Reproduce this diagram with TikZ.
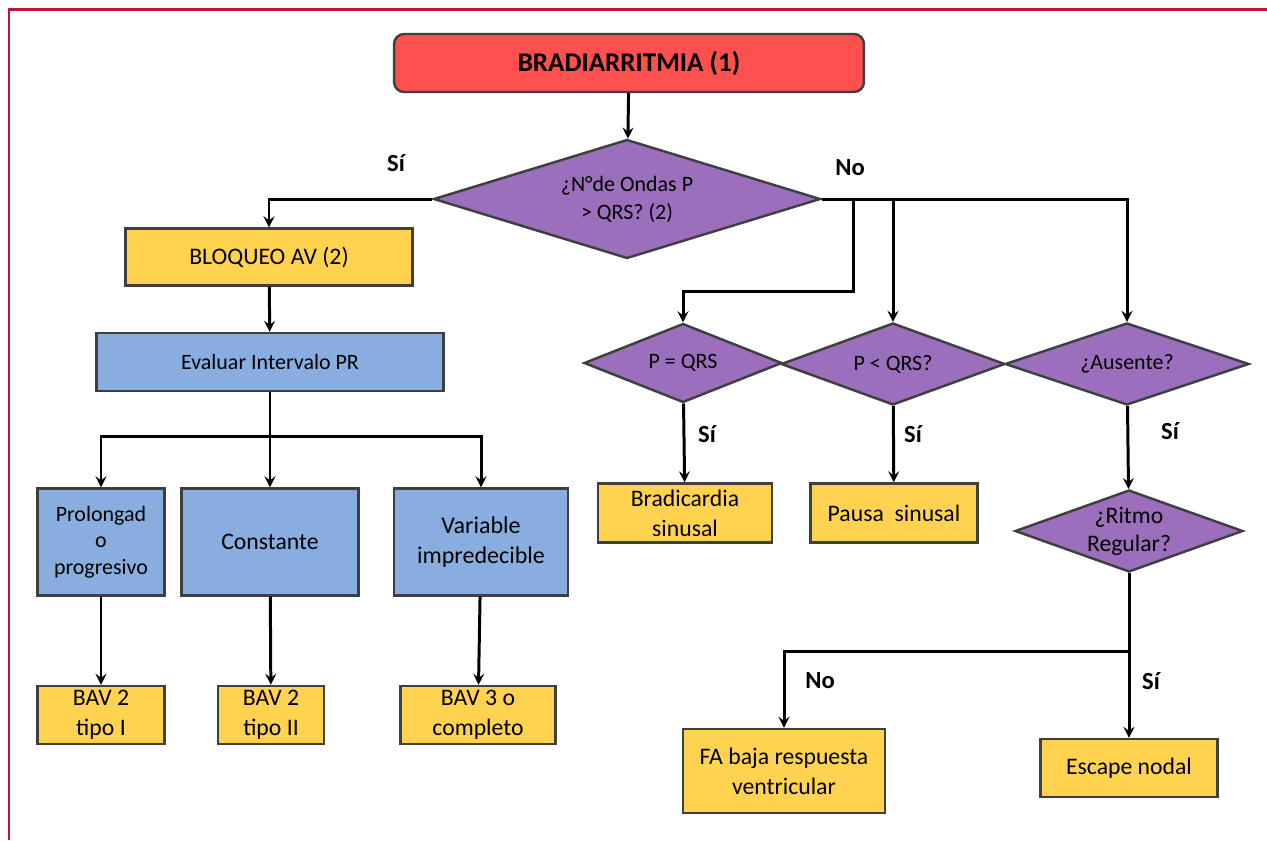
\documentclass[tikz,border=0pt]{standalone}
\usepackage{fontspec}
\setmainfont{Carlito}
\usetikzlibrary{arrows}
\usetikzlibrary{shapes}

\definecolor{frameRed}{HTML}{C8103E}
\definecolor{titleRed}{HTML}{FF5050}
\definecolor{decisionPurple}{HTML}{9B6FBC}
\definecolor{resultYellow}{HTML}{FFD34F}
\definecolor{processBlue}{HTML}{88AEE0}
\definecolor{borderGray}{HTML}{3F3F3F}

\begin{document}
\begin{tikzpicture}[x = 0.02cm, y = -0.02cm]
	\tikzstyle{BoxStyle} = [draw = borderGray, line width = 1.4pt, inner sep = 2pt, align = center, text = black]
	\tikzstyle{titleStyle} = [BoxStyle, rounded corners = 0.2cm, fill = titleRed, font = \fontsize{15.4}{18}\selectfont\bfseries]
	\tikzstyle{decisionStyle} = [BoxStyle, shape = diamond, inner sep = 0pt, aspect = 2.8, fill = decisionPurple, font = \fontsize{12.5}{16}\selectfont]
	\tikzstyle{resultStyle} = [BoxStyle, shape = rectangle, fill = resultYellow, font = \fontsize{13.5}{17}\selectfont]
	\tikzstyle{processStyle} = [BoxStyle, shape = rectangle, fill = processBlue, font = \fontsize{12.5}{15}\selectfont]
	\tikzstyle{labelStyle} = [font = \fontsize{14}{17}\selectfont\bfseries]
	\tikzstyle{EdgeStyle} = [draw = black, line width = 1.7pt, -stealth]
	\useasboundingbox (0,0) rectangle (1267,840);
	\draw[frameRed, line width = 1.6pt] (9,840) -- (9,9.5) -- (1267,9.5);
	\node[titleStyle, minimum width = 9.4cm, minimum height = 1.16cm] (brad) at (629,63) {BRADIARRITMIA (1)};
	\node[decisionStyle, aspect = 3.25, minimum width = 7.74cm, minimum height = 2.38cm] (ondas) at (627,199) {¿N°de Ondas P\\> QRS? (2)};
	\node[resultStyle, minimum width = 5.74cm, minimum height = 1.14cm] (bloq) at (269,257) {BLOQUEO AV (2)};
	\node[processStyle, minimum width = 6.94cm, minimum height = 1.16cm] (eval) at (270,362) {Evaluar Intervalo PR};
	\node[processStyle, minimum width = 2.54cm, minimum height = 2.14cm] (prol) at (101,542) {Prolongad\\o\\progresivo};
	\node[processStyle, minimum width = 3.54cm, minimum height = 2.14cm, font = \fontsize{13.5}{16}\selectfont] (const) at (270,542) {Constante};
	\node[processStyle, minimum width = 3.48cm, minimum height = 2.14cm, font = \fontsize{13.7}{17}\selectfont] (var) at (481,542) {Variable\\impredecible};
	\node[resultStyle, minimum width = 2.54cm, minimum height = 1.16cm] (bavI) at (101,715) {BAV 2\\tipo I};
	\node[resultStyle, minimum width = 2.12cm, minimum height = 1.16cm] (bavII) at (271,715) {BAV 2\\tipo II};
	\node[resultStyle, minimum width = 3.1cm, minimum height = 1.16cm] (bavIII) at (478,715) {BAV 3 o\\completo};
	\node[decisionStyle, minimum width = 3.96cm, minimum height = 1.58cm] (pIgual) at (683,363) {P = QRS};
	\node[decisionStyle, minimum width = 4.48cm, minimum height = 1.64cm] (pMenor) at (893,364) {P < QRS?};
	\node[decisionStyle, minimum width = 4.88cm, minimum height = 1.64cm] (aus) at (1127,364) {¿Ausente?};
	\node[resultStyle, minimum width = 3.48cm, minimum height = 1.18cm] (bradSin) at (685,513) {Bradicardia\\sinusal};
	\node[resultStyle, minimum width = 3.34cm, minimum height = 1.18cm] (pausa) at (894,513) {Pausa~~sinusal};
	\node[decisionStyle, aspect = 2.75, inner sep = -3pt, minimum width = 4.56cm, minimum height = 1.64cm, font = \fontsize{13.5}{16}\selectfont] (ritmo) at (1129,531) {¿Ritmo\\Regular?};
	\node[resultStyle, minimum width = 4.04cm, minimum height = 1.68cm] (fa) at (784,771) {FA baja respuesta\\ventricular};
	\node[resultStyle, minimum width = 3.54cm, minimum height = 1.16cm] (esc) at (1129,768) {Escape nodal};
	\node[labelStyle] (siOndas) at (396,163) {Sí};
	\node[labelStyle] (noOndas) at (850,168) {No};
	\node[labelStyle] (siIgual) at (707,434) {Sí};
	\node[labelStyle] (siMenor) at (913,434) {Sí};
	\node[labelStyle] (siAus) at (1170,431) {Sí};
	\node[labelStyle] (noRitmo) at (820,681) {No};
	\node[labelStyle] (siRitmo) at (1151,681) {Sí};
	\coordinate (cNo) at (853,291);
	\coordinate (cEval) at (270,436);
	\coordinate (cRitmo) at (1129,651);
	\draw[EdgeStyle] (brad) -- (ondas);
	\draw[EdgeStyle] (ondas.west) -| (bloq.north);
	\draw[EdgeStyle] (bloq) -- (eval);
	\draw[EdgeStyle, -] (eval) -- (cEval);
	\draw[EdgeStyle] (cEval) -| (prol.north);
	\draw[EdgeStyle] (cEval) -- (const.north);
	\draw[EdgeStyle] (cEval) -| (var.north);
	\draw[EdgeStyle] (prol) -- (bavI);
	\draw[EdgeStyle] (const) -- (bavII);
	\draw[EdgeStyle] (var) -- (bavIII);
	\draw[EdgeStyle] (ondas.east) -| (cNo) -| (pIgual.north);
	\draw[EdgeStyle] (ondas.east) -| (pMenor.north);
	\draw[EdgeStyle] (ondas.east) -| (aus.north);
	\draw[EdgeStyle] (pIgual) -- (bradSin);
	\draw[EdgeStyle] (pMenor) -- (pausa);
	\draw[EdgeStyle] (aus) -- (ritmo);
	\draw[EdgeStyle, -] (ritmo) -- (cRitmo);
	\draw[EdgeStyle] (cRitmo) -| (fa.north);
	\draw[EdgeStyle] (cRitmo) -- (esc.north);
\end{tikzpicture}
\end{document}
